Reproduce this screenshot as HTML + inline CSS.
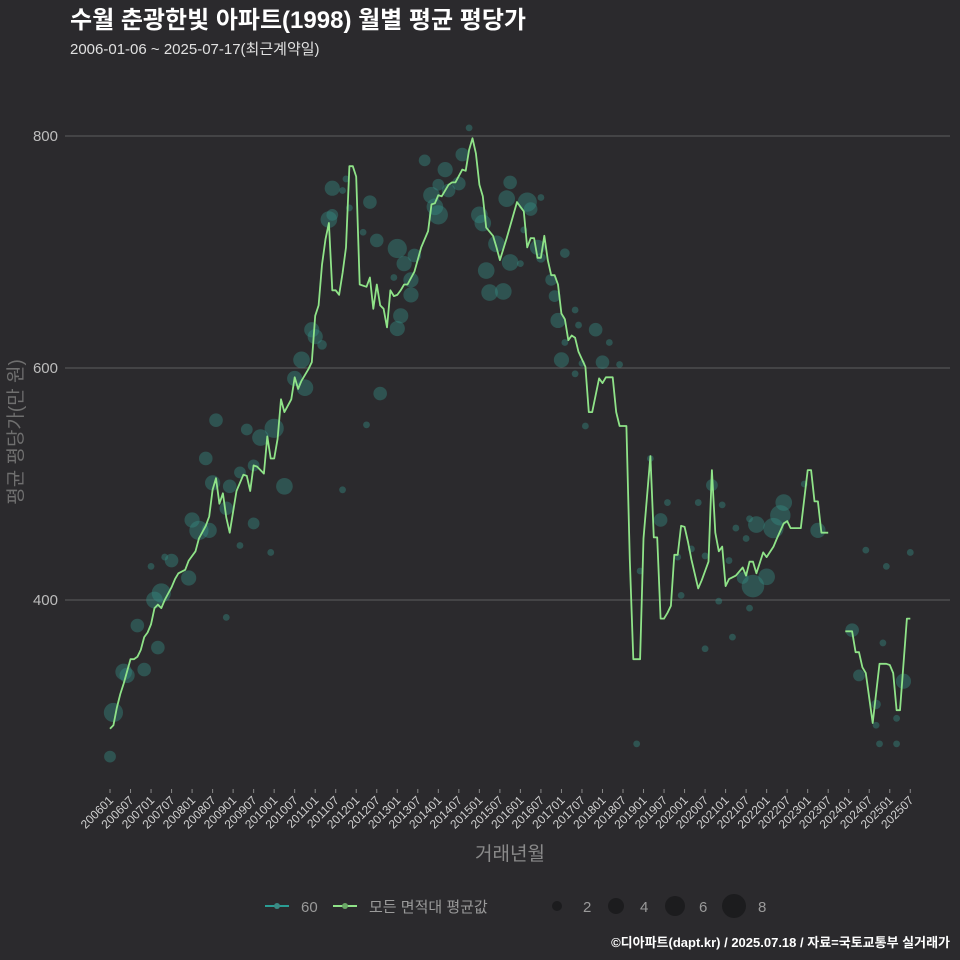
<!DOCTYPE html>
<html><head><meta charset="utf-8"><style>
html,body{margin:0;padding:0;background:#2b2a2d;}
svg{display:block;font-family:"Liberation Sans","Noto Sans CJK KR",sans-serif;}
</style></head><body>
<svg id="chart" width="960" height="960" viewBox="0 0 960 960">
<rect x="0" y="0" width="960" height="960" fill="#2b2a2d"/>
<text x="70" y="28" fill="#ffffff" font-size="24" font-weight="bold">수월 춘광한빛 아파트(1998) 월별 평균 평당가</text>
<text x="70" y="54" fill="#e0e0e0" font-size="15">2006-01-06 ~ 2025-07-17(최근계약일)</text>
<g id="grid"></g>
<g id="bubbles"></g>
<g id="lines"></g>
<g id="xaxis"></g>
<text x="510" y="860" fill="#8a8a8a" font-size="19" text-anchor="middle">거래년월</text>
<text transform="translate(22,432) rotate(-90)" fill="#6f6f6f" font-size="19" text-anchor="middle">평균 평당가(만 원)</text>
<g>
<g>
<line x1="265" y1="906" x2="289" y2="906" stroke="#2a9d94" stroke-width="2"/>
<circle cx="277" cy="906" r="3" fill="#3a8a84"/>
<text x="301" y="912" fill="#9a9a9a" font-size="15">60</text></g>
<g>
<line x1="333" y1="906" x2="357" y2="906" stroke="#8fe388" stroke-width="2"/>
<circle cx="345" cy="906" r="3" fill="#6aa866"/>
<text x="369" y="912" fill="#9a9a9a" font-size="15">모든 면적대 평균값</text></g>
<g>
<circle cx="557" cy="906" r="5" fill="#1c1c1e"/><text x="583" y="912" fill="#9a9a9a" font-size="15">2</text>
<circle cx="616" cy="906" r="8" fill="#1c1c1e"/><text x="640" y="912" fill="#9a9a9a" font-size="15">4</text>
<circle cx="675" cy="906" r="10" fill="#1c1c1e"/><text x="699" y="912" fill="#9a9a9a" font-size="15">6</text>
<circle cx="734" cy="906" r="12" fill="#1c1c1e"/><text x="758" y="912" fill="#9a9a9a" font-size="15">8</text>
</g></g>
<text x="950" y="947" fill="#ffffff" font-size="13" font-weight="bold" text-anchor="end">©디아파트(dapt.kr) / 2025.07.18 / 자료=국토교통부 실거래가</text>
</svg>
<script>
// line series: month index from 2006-01, value
const lineMonths = [0,1,2,3,4,6,7,8,9,10,11,12,13,14,15,16,18,19,20,22,23,25,26,28,29,30,31,32,33,34,35,36,37,39,40,41,42,43,45,46,47,48,49,50,51,53,54,55,56,58,59,60,61,62,63,64,65,66,67,68,69,70,71,72,73,75,76,77,78,79,80,81,82,83,84,85,86,87,89,91,93,94,95,96,97,99,100,101,103,104,105,106,107,108,109,110,112,113,114,116,119,121,122,123,124,125,126,127,128,129,130,131,132,133,134,135,136,137,139,140,141,143,144,145,147,148,149,151,152,153,155,156,158,159,160,161,162,163,164,165,166,167,168,169,170,172,173,175,176,177,178,179,180,181,183,185,186,187,188,189,191,192,194,195,197,198,199,202,204,205,206,207,208,210,215,217,218,219,220,221,223,225,227,228,229,230,231,233,234];
const lineValues = [289,292,307,319,328,349,349,351,357,368,372,379,393,396,393,400,411,418,423,426,434,442,453,464,472,495,505,483,492,471,458,476,494,508,507,494,516,515,509,541,522,522,539,573,562,573,592,582,589,599,605,645,654,689,711,725,667,667,663,682,704,774,774,765,672,670,678,651,672,654,651,635,667,662,663,667,672,672,683,704,718,741,742,749,748,758,760,760,771,770,788,798,785,758,748,721,714,704,693,712,743,735,704,712,712,695,695,714,693,680,680,672,647,642,624,628,626,614,601,562,562,591,587,592,592,562,550,550,435,349,349,453,524,454,454,384,384,389,395,439,439,464,463,450,435,410,417,433,512,458,442,446,412,418,421,428,421,433,433,423,441,437,446,453,466,468,462,462,512,512,485,485,458,458,373,373,355,355,342,337,294,345,345,344,337,305,305,384,384];
// bubbles (area 60): month index, value, trade count
const bubbleMonths = [0,1,4,5,8,10,12,14,13,15,18,16,23,24,26,28,29,34,30,31,34,35,38,38,40,42,42,44,47,48,51,54,56,57,59,60,62,68,65,64,65,68,70,69,75,74,76,78,79,83,84,85,86,84,88,88,89,92,95,96,94,96,98,99,103,102,105,108,109,110,111,113,115,117,116,117,120,121,122,123,125,126,126,129,130,131,133,132,133,136,137,136,138,139,142,144,146,149,154,155,158,161,163,166,167,170,172,174,174,176,178,179,181,182,183,186,185,187,187,189,188,192,194,197,196,203,207,217,219,221,224,224,225,226,227,230,230,232,234];
const bubbleValues = [265,303,338,335,378,340,429,359,400,406,434,437,419,469,460,522,460,385,501,555,479,498,510,447,547,466,516,540,441,548,498,591,607,583,633,627,620,495,732,728,755,753,738,763,551,717,743,710,578,678,634,645,690,703,676,663,697,779,739,732,749,758,771,753,784,759,807,732,725,684,665,707,666,691,746,760,690,719,743,737,704,695,747,676,662,641,622,607,699,650,637,595,604,550,633,605,622,603,276,425,522,469,484,437,404,444,484,438,358,499,399,482,434,368,462,453,419,470,393,465,412,420,462,484,473,500,460,374,335,443,292,310,276,363,429,298,276,330,441];
const bubbleCounts = [3,8,6,5,4,4,1,4,6,8,4,1,5,5,8,4,5,1,5,4,4,4,3,1,3,3,3,6,1,8,6,5,6,6,5,5,2,1,3,6,5,1,1,1,1,1,4,4,4,1,5,5,5,8,5,5,4,3,6,8,6,3,5,4,4,4,1,6,6,6,6,6,6,6,6,4,1,1,8,4,5,2,1,3,3,5,1,5,2,1,1,1,1,1,4,4,1,1,1,1,1,4,1,1,1,1,1,1,1,3,1,1,1,1,1,1,3,1,1,6,11,6,9,6,9,1,5,4,3,1,1,2,1,1,1,1,1,5,1];
const yTicks = [400,600,800];

const NS='http://www.w3.org/2000/svg';
const X0=110, DX=3.42;
function xScale(m){return X0+m*DX;}
function yScale(v){return 600-(v-400)*1.16;}
function rScale(n){return 3.4*Math.sqrt(n);}
function mk(tag,attrs,parent){const e=document.createElementNS(NS,tag);for(const k in attrs)e.setAttribute(k,attrs[k]);parent.appendChild(e);return e;}
function monthLabel(m){const y=2006+Math.floor(m/12);const mo=m%12+1;return ''+y+(mo<10?'0':'')+mo;}

const grid=document.getElementById('grid');
yTicks.forEach(t=>{
  const l=mk('line',{x1:65,x2:950,y1:yScale(t),y2:yScale(t),stroke:'#5e5e5e','stroke-width':1},grid);
  
  
  const tx=mk('text',{x:58,y:yScale(t)+5,fill:'#bdbdbd','font-size':15,'text-anchor':'end'},grid);
  tx.textContent=t;
  
  
});

const bg=document.getElementById('bubbles');
bubbleMonths.forEach((m,i)=>{
  const c=mk('circle',{cx:xScale(m),cy:yScale(bubbleValues[i]),r:rScale(bubbleCounts[i]),fill:'rgba(52,140,132,0.42)'},bg);
  
  
});

const lg=document.getElementById('lines');
let seg=[];const segs=[];
lineMonths.forEach((m,i)=>{
  if(i>0 && m-lineMonths[i-1]>4){segs.push(seg);seg=[];}
  seg.push(xScale(m).toFixed(1)+','+yScale(lineValues[i]).toFixed(1));
});
segs.push(seg);
segs.forEach(s=>{
  const p=mk('polyline',{points:s.join(' '),fill:'none',stroke:'#8fe388','stroke-width':1.8,'stroke-linejoin':'round'},lg);
  
  
});

const xa=document.getElementById('xaxis');
for(let m=0;m<=234;m+=6){
  const x=xScale(m);
  const t=mk('line',{x1:x,x2:x,y1:789,y2:793,stroke:'#888','stroke-width':1},xa);
  
  
  const tx=mk('text',{transform:'translate('+(x+4)+',801) rotate(-45)',fill:'#d0d0d0','font-size':12,'text-anchor':'end'},xa);
  tx.textContent=monthLabel(m);
  
  
}
</script>
</body></html>
